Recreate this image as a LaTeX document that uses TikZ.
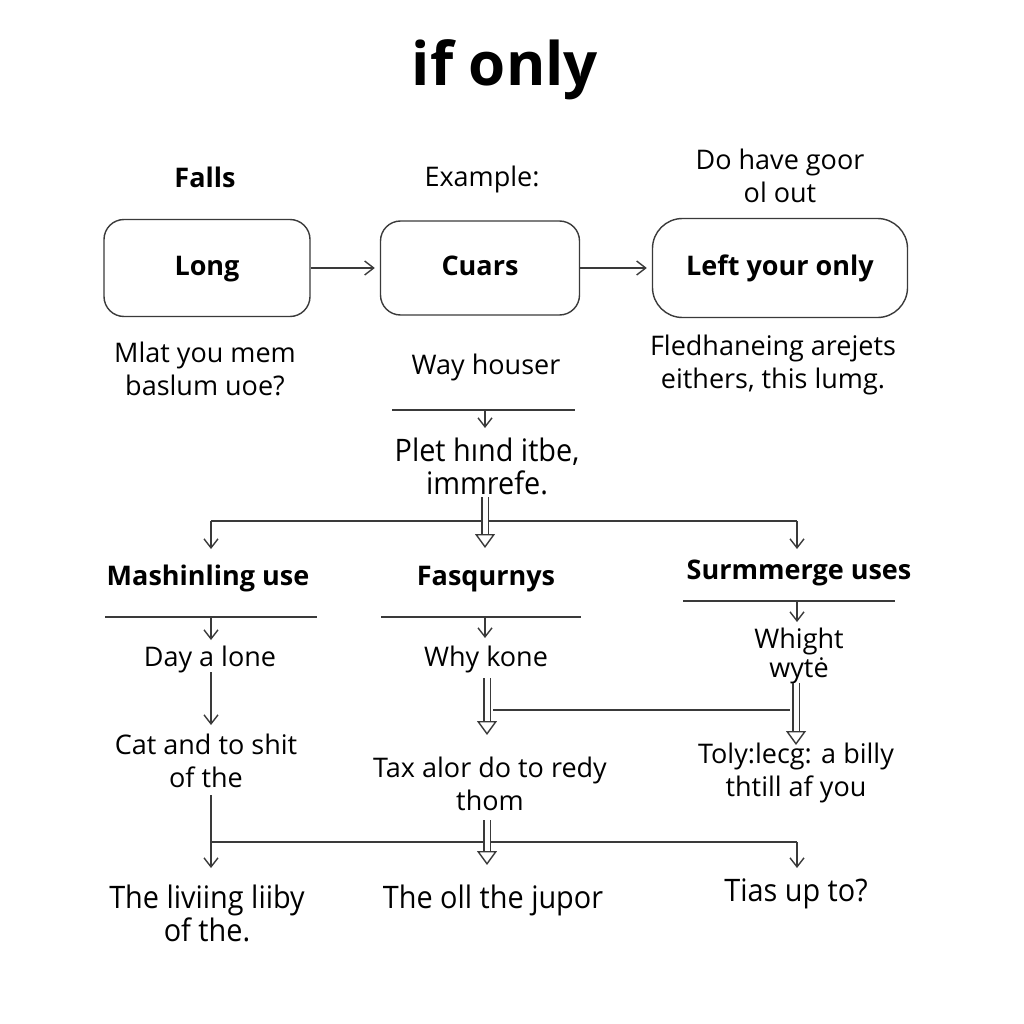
\documentclass[tikz,border=0pt]{standalone}
\usepackage{fontspec}
\setmainfont{Open Sans}
\newfontfamily\narrowfont[FakeStretch=0.93]{Open Sans}
\usetikzlibrary{arrows.meta}
\definecolor{linegray}{HTML}{3A3A3A}

\begin{document}
\begin{tikzpicture}[x=1pt,y=-1pt,line width=1.4pt,draw=linegray,
  txt/.style={font=\fontsize{27}{33}\selectfont,align=center,inner sep=0pt},
  one/.style={text height=20pt,text depth=6pt},
  head/.style={txt,one,font=\fontsize{27}{33}\selectfont\bfseries},
  narrow/.style={txt,font=\fontsize{31}{33}\selectfont\narrowfont},
  box/.style={head,draw=linegray,rounded corners=20pt,minimum width=206pt,minimum height=97pt},
  arr/.style={linegray,-{Straight Barb[length=9pt,width=14pt,line width=1.4pt]}},
  fat/.style={linegray,double,double distance=5pt,-{Triangle[open,length=14pt,width=20pt]}}]
\useasboundingbox (0,0) rectangle (1024,1024);
% title and top row of boxes
\node[head,font=\fontsize{60}{62}\selectfont\bfseries,text height=44pt,text depth=13pt] (title) at (505,70) {if only};
\node[head] (falls) at (205,181) {Falls};
\node[txt,one] (example) at (482,180) {Example:};
\node[txt] (dohave) at (780,176) {Do have goor\\ol out};
\node[box] (long) at (207,268) {Long};
\node[box,minimum width=199pt,minimum height=94pt] (cuars) at (480,268) {Cuars};
\node[box,minimum width=255pt,minimum height=99pt,rounded corners=30pt] (left) at (780,268) {Left your only};
\draw[arr,shorten >=5pt] (long.east) -- (cuars.west);
\draw[arr,shorten >=5pt] (cuars.east) -- (left.west);
\node[txt] (mlat) at (205,369) {Mlat you mem\\baslum uoe?};
\node[txt,one] (way) at (486,367) {Way houser};
\node[txt] (fled) at (773,365) {Fledhaneing arejets\\eithers, this lumg.};
% rule under the middle text
\coordinate (wayl) at (392,410);
\coordinate (wayr) at (575,410);
\coordinate (waym) at (485,410);
\draw (wayl) -- (wayr);
\draw[arr] (waym) -- ++(0,18);
\node[narrow] (plet) at (487,466) {Plet hınd itbe,\\immrefe.};
% first split
\coordinate (sl) at (211,521);
\coordinate (sr) at (797,521);
\draw (sl) -- (sr);
\draw[arr] (sl) -- ++(0,28);
\draw[arr] (sr) -- ++(0,28);
\draw[fat] (485,497) -- (485,548);
% second row
\node[head] (mash) at (208,578) {Mashinling use};
\node[head] (fasq) at (486,578) {Fasqurnys};
\node[head] (surm) at (799,572) {Surmmerge uses};
\coordinate (ml) at (105,617);
\coordinate (mr) at (317,617);
\coordinate (fl) at (381,617);
\coordinate (fr) at (581,617);
\coordinate (ul) at (683,601);
\coordinate (ur) at (895,601);
\draw (ml) -- (mr) (fl) -- (fr) (ul) -- (ur);
\draw[arr] (211,617) -- ++(0,23);
\draw[arr] (485,617) -- ++(0,21);
\draw[arr] (797,601) -- ++(0,21);
\node[txt,one] (day) at (210,659) {Day a lone};
\node[txt,one] (why) at (486,659) {Why kone};
\node[txt,font=\fontsize{27}{29}\selectfont] (whig) at (799,656) {Whight\\wytė};
% third row
\draw[arr] (211,672) -- (211,725);
\draw[fat] (487,678) -- (487,735);
\draw[fat] (796,683) -- (796,745);
\draw (493,710) -- (790,710);
\node[txt] (cat) at (206,761) {Cat and to shit\\of the};
\node[txt] (tax) at (490,784) {Tax alor do to redy\\thom};
\node[txt] (toly) at (796,773) {Toly:lecg: a billy\\thtill af you};
% last split
\coordinate (bl) at (211,842);
\coordinate (br) at (797,842);
\draw (211,795) -- (bl) -- (br);
\draw[arr] (bl) -- ++(0,26);
\draw[arr] (br) -- ++(0,26);
\draw[fat] (487,820) -- (487,865);
\node[narrow] (liv) at (207,913) {The liviing liiby\\of the.};
\node[narrow,one] (oll) at (493,901) {The oll the jupor};
\node[narrow,one] (tias) at (796,894) {Tias up to?};
\end{tikzpicture}
\end{document}
